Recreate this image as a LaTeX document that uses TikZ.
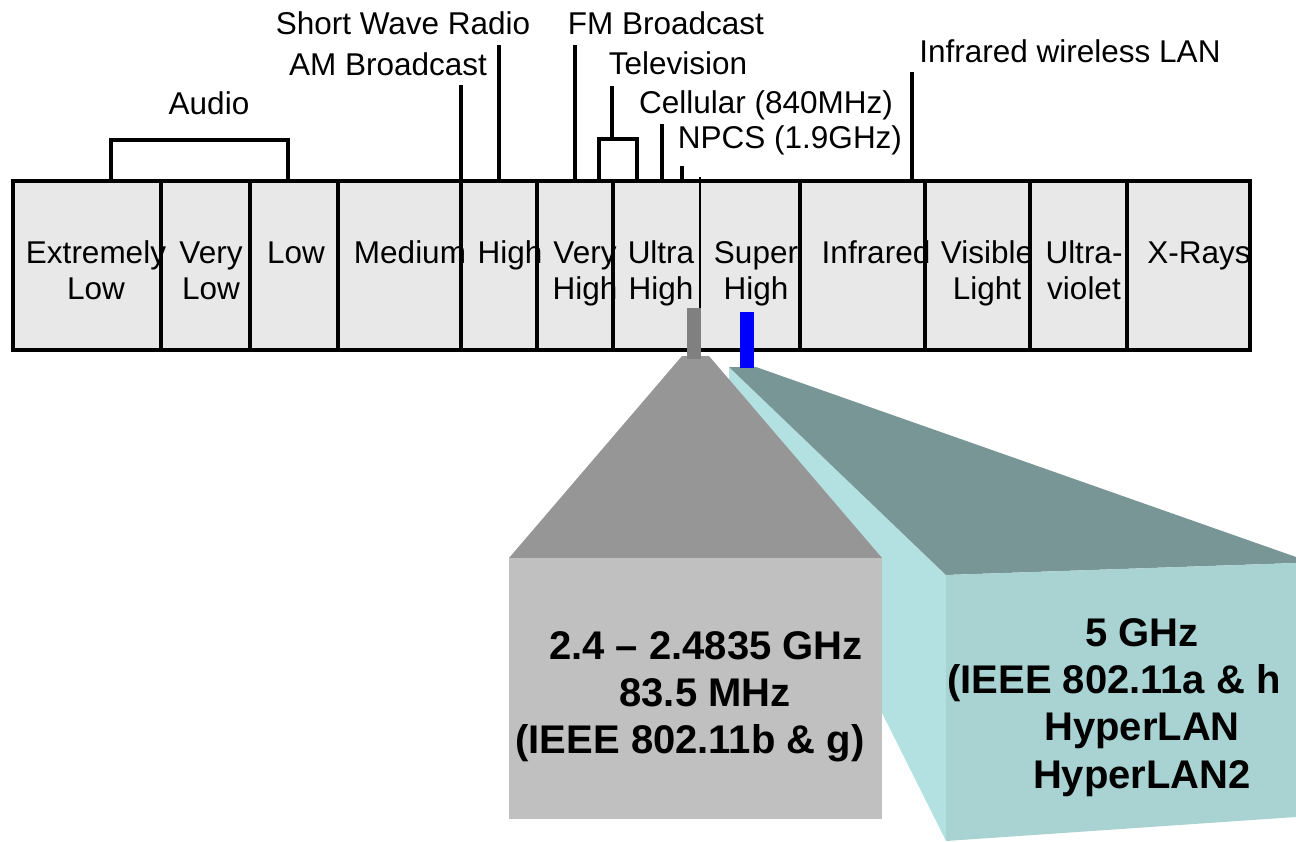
\documentclass[tikz,border=0pt]{standalone}
\usepackage{fontspec}
\setmainfont{Liberation Sans}
\definecolor{bandfill}{RGB}{232,232,232}
\definecolor{graybar}{RGB}{128,128,128}
\definecolor{pyrgray}{RGB}{150,150,150}
\definecolor{frontgray}{RGB}{192,192,192}
\definecolor{tealtop}{RGB}{120,150,150}
\definecolor{cyanside}{RGB}{179,224,224}
\definecolor{cyanfront}{RGB}{169,211,211}
\definecolor{barblue}{RGB}{0,0,255}
\begin{document}
\begin{tikzpicture}[x=1pt,y=-1pt,
  lbl/.style={font=\fontsize{31.5}{36}\selectfont, inner sep=0pt, anchor=base},
  cell/.style={lbl, align=center},
  big/.style={font=\bfseries\fontsize{40}{46.5}\selectfont, inner sep=0pt, anchor=base},
  tick/.style={line width=4pt},
  thin/.style={line width=1.5pt},
]
\useasboundingbox (0,0) rectangle (1296,841);

% ---- spectrum band ----
\draw[line width=4pt, fill=bandfill] (13,181) rectangle (1250,350);
\foreach \x in {161,250,338,461,537,613,800,925,1030,1127}
  \draw[tick] (\x,181) -- (\x,350);
\draw[thin] (700,177) -- (700,350);

% ---- cell labels (base = baseline of last line) ----
\node[cell] (c1) at (96,299) {Extremely\\Low};
\node[cell] (c2) at (211,299) {Very\\Low};
\node[cell] (c3) at (296,263) {Low};
\node[cell] (c4) at (410,263) {Medium};
\node[cell] (c5) at (510,263) {High};
\node[cell] (c6) at (585,299) {Very\\High};
\node[cell] (c7) at (661,299) {Ultra\\High};
\node[cell] (c8) at (756,299) {Super\\High};
\node[cell] (c9) at (876,263) {Infrared};
\node[cell] (c10) at (987,299) {Visible\\Light};
\node[cell] (c11) at (1084,299) {Ultra-\\violet};
\node[cell] (c12) at (1199,263) {X-Rays};

% ---- top labels ----
\node[lbl] (sw) at (403,34) {Short Wave Radio};
\node[lbl] (fm) at (666,34) {FM Broadcast};
\node[lbl] (am) at (388,75) {AM Broadcast};
\node[lbl] (tv) at (678,74) {Television};
\node[lbl] (au) at (209,114) {Audio};
\node[lbl] (cel) at (766,113) {Cellular (840MHz)};
\node[lbl] (npcs) at (790,148) {NPCS (1.9GHz)};
\node[lbl] (irl) at (1070,62) {Infrared wireless LAN};

% ---- label lines ----
\coordinate (amT) at (461,85);  \coordinate (amB) at (461,181);
\coordinate (swT) at (499,45);  \coordinate (swB) at (499,181);
\coordinate (fmT) at (575,45);  \coordinate (fmB) at (575,181);
\coordinate (celT) at (662,124); \coordinate (celB) at (662,181);
\coordinate (npT) at (682,166); \coordinate (npB) at (682,181);
\coordinate (irT) at (912,72);  \coordinate (irB) at (912,181);
\coordinate (tvT) at (612,86);  \coordinate (tvM) at (612,139);
\draw[tick] (amT) -- (amB);
\draw[tick] (swT) -- (swB);
\draw[tick] (fmT) -- (fmB);
\draw[tick] (celT) -- (celB);
\draw[tick] (npT) -- (npB);
\draw[tick] (irT) -- (irB);
\draw[tick] (tvT) -- (tvM);
\draw[tick] (599,181) -- (599,139) -- (637,139) -- (637,181);
\draw[tick] (111,181) -- (111,140) -- (288,140) -- (288,181);

% ---- 5 GHz block ----
\fill[cyanside] (729,367) -- (946,575) -- (946,841) -- (729,407) -- cycle;
\fill[tealtop] (729,367) -- (756,367) -- (1296,557) -- (1296,563) -- (946,575) -- cycle;
\fill[cyanfront] (946,575) -- (1296,563) -- (1296,817) -- (946,841) -- cycle;

% ---- 2.4 GHz block ----
\fill[pyrgray] (682,356) -- (709,356) -- (882,558) -- (509,558) -- cycle;
\fill[frontgray] (509,558) rectangle (882,819);

% ---- markers ----
\fill[graybar] (687,308) rectangle (701,359);
\fill[barblue] (740,312) rectangle (754,368);

% ---- block texts ----
\node[big] (g1) at (706,659) {2.4 – 2.4835 GHz};
\node[big] (g2) at (705,706) {83.5 MHz};
\node[big] (g3) at (690,753) {(IEEE 802.11b \& g)};
\node[big] (h1) at (1142,646) {5 GHz};
\node[big, anchor=base west] (h2) at (947,693) {(IEEE 802.11a \& h};
\node[big] (h3) at (1142,740) {HyperLAN};
\node[big] (h4) at (1142,788) {HyperLAN2};
\end{tikzpicture}
\end{document}
